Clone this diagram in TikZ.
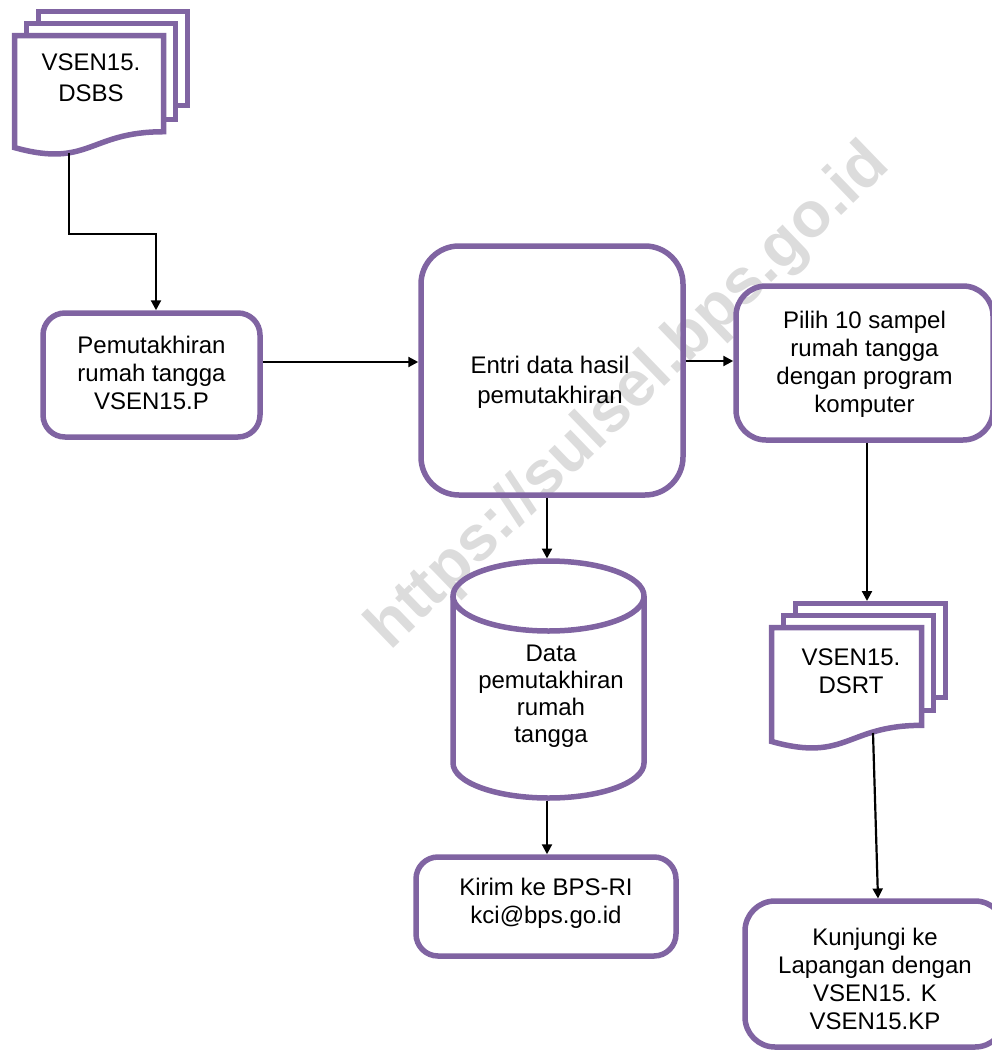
\documentclass[tikz,border=0pt]{standalone}
\usepackage{fontspec}
\setmainfont{Liberation Sans}
\usetikzlibrary{arrows.meta}
\definecolor{pur}{RGB}{128,100,162}
\definecolor{wm}{RGB}{220,220,220}
\newcommand{\mydoc}[4]{%
  \draw[docline] (#1,#2) -- (#3,#2) -- (#3,{#2+0.802*#4})
    .. controls ({(#1+#3)/2},{#2+0.802*#4}) and ({(#1+#3)/2},{#2+1.1075*#4}) ..
    (#1,{#2+0.934*#4}) -- cycle;}
\newcommand{\mypage}[4]{\draw[docline] (#1,#2) rectangle (#3,#4);}
\begin{document}
\begin{tikzpicture}[x=1pt,y=-1pt,
  box/.style={draw=pur, line width=5.5pt, inner sep=0pt},
  docline/.style={draw=pur, line width=5.5pt, fill=white},
  txt/.style={font=\fontsize{24}{28}\selectfont, align=center, inner sep=0pt},
  arr/.style={draw=black, line width=2.2pt, -{Triangle[length=10pt,width=10pt]}}]
\useasboundingbox (0,0) rectangle (992,1052);

% watermark
\node[font=\fontsize{64}{64}\selectfont\bfseries, text=wm, rotate=44, anchor=base, inner sep=0pt] (wmk) at (641,409) {https://sulsel.bps.go.id};

% DSBS multi-document
\mypage{38.5}{11.5}{187.5}{105.5}
\mypage{26.5}{23.5}{175.5}{119.5}
\mydoc{14.5}{35.5}{163.5}{120}
\node[txt, font=\fontsize{24}{31}\selectfont] (dsbs) at (91,78) {VSEN15.\\DSBS};

% DSRT multi-document
\mypage{795.5}{603.5}{945.5}{697.5}
\mypage{783.5}{615.5}{933.5}{710.5}
\mydoc{771.5}{627.5}{921.5}{122}
\node[txt] (dsrt) at (851,671) {VSEN15.\\DSRT};

% process boxes
\node[box, rounded corners=22pt, minimum width=217pt, minimum height=124pt] (pem) at (151.5,375) {};
\node[txt] (pemt) at (151.5,373) {Pemutakhiran\\rumah tangga\\VSEN15.P};

\node[box, rounded corners=38pt, minimum width=262pt, minimum height=249pt] (entri) at (552,370.5) {};
\node[txt, font=\fontsize{24}{30}\selectfont] (entrit) at (550,382) {Entri data hasil\\pemutakhiran};

\node[box, rounded corners=30pt, minimum width=257pt, minimum height=154pt] (pilih) at (864.5,363) {};
\node[txt] (piliht) at (864.5,364) {Pilih 10 sampel\\rumah tangga\\dengan program\\komputer};

\node[box, rounded corners=22pt, minimum width=260pt, minimum height=99pt] (kirim) at (546,906.5) {};
\node[txt] (kirimt) at (546,903) {Kirim ke BPS-RI\\kci@bps.go.id};

\node[box, rounded corners=30pt, minimum width=260pt, minimum height=146pt] (kunj) at (875,974) {};
\node[txt] (kunjt) at (875,979) {Kunjungi ke\\Lapangan dengan\\VSEN15. K\\VSEN15.KP};

% database cylinder
\draw[pur, line width=5.5pt] (453,596) -- (453,763)
  arc[start angle=180, end angle=360, x radius=95.5pt, y radius=35pt] -- (644,596);
\draw[pur, line width=5.5pt] (548.5,596) ellipse [x radius=95.5pt, y radius=35pt];
\node[txt, font=\fontsize{24}{27}\selectfont] (cylt) at (551,696) {Data\\pemutakhiran\\rumah\\tangga};

% connectors
\coordinate (dsbsb) at (69,153);
\coordinate (j1) at (156,234);
\draw[arr] (dsbsb) |- (j1) -- (j1 |- pem.north);
\coordinate (ey) at (0,362);
\draw[arr] (pem.east |- ey) -- (entri.west |- ey);
\coordinate (ey2) at (0,361);
\draw[arr] (entri.east |- ey2) -- (pilih.west |- ey2);
\coordinate (dsrttop) at (867,601);
\draw[arr] (pilih.south -| dsrttop) -- (dsrttop);
\coordinate (dsrtb) at (873,733);
\coordinate (kunjin) at (878,898.5);
\draw[arr] (dsrtb) -- (kunjin);
\coordinate (cyltop) at (547,558.5);
\draw[arr] (cyltop |- entri.south) -- (cyltop);
\coordinate (cylbot) at (547,801);
\draw[arr] (cylbot) -- (cylbot |- kirim.north);
\end{tikzpicture}
\end{document}
